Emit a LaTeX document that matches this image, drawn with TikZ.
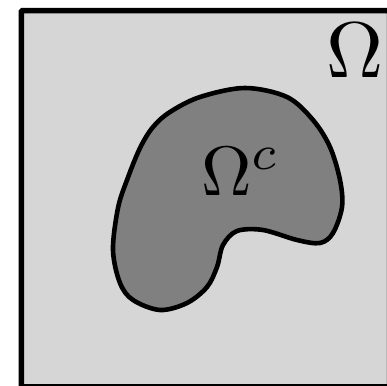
\documentclass[tikz,border=0pt]{standalone}
\usepackage{graphicx}
\definecolor{outergray}{RGB}{214,214,214}
\definecolor{innergray}{RGB}{128,128,128}
\tikzset{
  domainbox/.style={draw=black, fill=outergray, line width=5.4pt, rounded corners=1pt},
  blobshape/.style={draw=black, fill=innergray, line width=4.6pt, line join=round},
  biglabel/.style={inner sep=0pt},
  midlabel/.style={inner sep=0pt}
}
\begin{document}
\begin{tikzpicture}[x=1pt,y=-1pt]
\useasboundingbox (0,0) rectangle (387,385);
\clip (0,0) rectangle (387,385);
\draw[domainbox] (21.3,10.6) rectangle (389.5,386.8);
\draw[blobshape] plot[smooth cycle, tension=0.55] coordinates {
  (118,208) (127,180) (140,148) (153,127) (170,112) (200,97) (245,88)
  (287,97) (313,120) (330,147) (340,180) (342,207) (333,233) (320,243)
  (297,240) (263,230) (237,231) (223,245) (217,267) (207,287) (187,303)
  (160,310) (133,300) (120,283) (113,250)
};
\node[biglabel, anchor=base] (omega) at (355.5,77.3) {\scalebox{7.9}{$\Omega$}};
\node[midlabel, anchor=base west] (omegac) at (201,195) {\scalebox{7.0}{$\Omega^c$}};
\end{tikzpicture}
\end{document}
